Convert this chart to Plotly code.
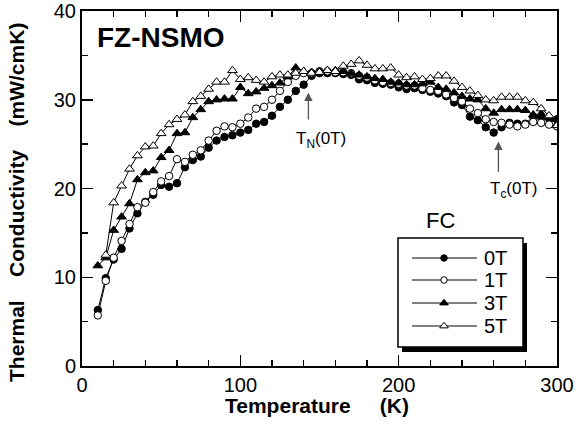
import plotly.graph_objects as go

# ---------------- data ----------------
temps = [10, 15, 20, 25, 30, 35, 40, 45, 50, 55, 60, 65, 70, 75, 80, 85, 90, 95, 100,
         105, 110, 115, 120, 125, 130, 135, 140, 145, 150, 155, 160, 165, 170, 175, 180,
         185, 190, 195, 200, 205, 210, 215, 220, 225, 230, 235, 240, 245, 250, 255, 260,
         265, 270, 275, 280, 285, 290, 295, 300]

k_0T = [6.3, 9.9, 12.0, 13.2, 15.5, 17.2, 18.5, 19.3, 20.4, 20.2, 20.6, 22.4, 23.2, 23.6,
        24.6, 25.4, 25.8, 26.0, 26.3, 26.6, 27.3, 27.5, 28.2, 29.2, 30.0, 31.0, 31.7, 32.7,
        33.0, 33.0, 33.0, 32.9, 32.8, 32.3, 32.2, 31.9, 31.8, 31.7, 31.4, 31.2, 31.3, 31.1,
        30.9, 30.7, 30.4, 29.7, 29.4, 28.1, 27.7, 26.9, 26.3, 26.9, 27.4, 27.3, 27.3, 28.1,
        28.0, 27.9, 27.8]

k_1T = [5.7, 9.6, 12.2, 14.1, 16.0, 17.9, 18.4, 19.6, 20.8, 21.4, 23.3, 23.0, 23.8, 24.3,
        25.4, 26.5, 27.0, 26.9, 27.3, 28.0, 29.0, 29.2, 30.0, 31.0, 32.0, 32.7, 33.0, 33.0,
        33.2, 33.2, 33.1, 33.1, 33.0, 32.7, 32.5, 32.2, 32.0, 31.9, 31.8, 31.6, 31.6, 31.3,
        31.1, 31.0, 30.6, 30.2, 29.8, 29.0, 28.5, 27.8, 27.5, 27.4, 27.2, 27.0, 27.2, 27.5,
        27.4, 27.2, 27.0]

k_3T = [11.3, 12.2, 15.3, 16.8, 18.3, 21.0, 21.8, 22.0, 23.5, 24.3, 26.2, 26.3, 28.0, 28.9,
        29.8, 30.0, 30.1, 30.1, 31.4, 30.7, 30.9, 31.3, 31.6, 31.9, 32.6, 33.6, 33.2, 33.1,
        33.2, 33.3, 33.3, 33.2, 33.0, 32.8, 32.6, 32.4, 32.3, 32.0, 31.9, 31.7, 31.7, 31.8,
        32.0, 31.4, 31.2, 30.8, 30.4, 30.1, 30.0, 29.0, 28.5, 28.9, 28.9, 28.9, 28.8, 28.3,
        28.4, 28.1, 27.8]

temps_5T = temps[1:]
k_5T = [12.5, 18.4, 20.3, 22.2, 23.7, 24.7, 24.8, 26.2, 27.2, 27.8, 28.3, 29.8, 30.4,
        31.2, 32.0, 32.0, 33.3, 32.3, 32.5, 32.2, 32.0, 32.6, 32.8, 32.8, 33.0, 33.2, 33.0,
        33.1, 33.3, 33.2, 33.8, 34.0, 34.4, 33.9, 33.5, 33.5, 33.6, 32.8, 32.5, 32.6, 32.3,
        32.4, 32.7, 32.7, 32.1, 31.4, 31.0, 30.5, 30.0, 29.9, 30.3, 30.3, 30.3, 29.9, 29.7,
        29.0, 28.2, 27.1]

series_names = ["0T", "1T", "3T", "5T"]
x_ticks = [0, 100, 200, 300]
y_ticks = [0, 10, 20, 30, 40]

FONT = "Liberation Sans, Arial, Helvetica, sans-serif"

# plot area in window pixels
L, R, T, B = 82, 557, 11, 366
W, H = 576, 430

fig = go.Figure()
styles = [
    dict(symbol="circle", color="black", size=7.5),
    dict(symbol="circle", color="white", size=7.5),
    dict(symbol="triangle-up", color="black", size=8.5),
    dict(symbol="triangle-up", color="white", size=8.5),
]
xs = [temps, temps, temps, temps_5T]
ys = [k_0T, k_1T, k_3T, k_5T]
for name, st, x, y in zip(series_names, styles, xs, ys):
    fig.add_trace(go.Scatter(
        x=x, y=y, name=name, mode="lines+markers", showlegend=False,
        line=dict(color="black", width=1),
        marker=dict(symbol=st["symbol"], color=st["color"], size=st["size"],
                    line=dict(color="black", width=1)),
    ))

# ---- hand-made legend on a pixel-scaled overlay axis ----
leg_box = (398, 238, 523, 347)
leg_rows = [258, 280, 303, 326]
line_x0, line_x1, mark_x, text_x = 412, 477, 444, 482
for name, st, yy in zip(series_names, styles, leg_rows):
    fig.add_trace(go.Scatter(
        x=[line_x0, line_x1], y=[yy, yy], xaxis="x2", yaxis="y2", mode="lines",
        line=dict(color="black", width=1), showlegend=False, hoverinfo="skip"))
    fig.add_trace(go.Scatter(
        x=[mark_x], y=[yy], xaxis="x2", yaxis="y2", mode="markers", showlegend=False,
        hoverinfo="skip",
        marker=dict(symbol=st["symbol"], color=st["color"], size=st["size"] - 1,
                    line=dict(color="black", width=1))))

axis_common = dict(
    showgrid=False, zeroline=False, showline=True, linecolor="black", linewidth=2,
    mirror="ticks", ticks="inside", ticklen=11, tickwidth=1.5, tickcolor="black",
    tickfont=dict(family=FONT, size=20, color="black"), automargin=False,
    ticklabeloverflow="allow",
)
fig.update_layout(
    xaxis=dict(range=[0, 300], tickvals=x_ticks,
               minor=dict(dtick=20, ticks="inside", ticklen=6, tickwidth=1.5, tickcolor="black"),
               **axis_common),
    yaxis=dict(range=[0, 40], tickvals=y_ticks,
               minor=dict(dtick=5, ticks="inside", ticklen=6, tickwidth=1.5, tickcolor="black"),
               **axis_common),
    xaxis2=dict(overlaying="x", range=[L, R], visible=False, automargin=False),
    yaxis2=dict(overlaying="y", range=[B, T], visible=False, automargin=False),
)

def px2paper_x(px):
    return (px - L) / (R - L)

def px2paper_y(py):
    return (B - py) / (B - T)

annotations = [
    dict(text="<b>FZ-NSMO</b>", x=px2paper_x(95), y=px2paper_y(37), xref="paper", yref="paper",
         xanchor="left", yanchor="middle", showarrow=False,
         font=dict(family=FONT, size=28, color="black")),
    dict(text="<b>Temperature\u00a0\u00a0\u00a0\u00a0\u00a0(K)</b>", x=px2paper_x(317), y=px2paper_y(405),
         xref="paper", yref="paper", xanchor="center", yanchor="middle", showarrow=False,
         font=dict(family=FONT, size=21, color="black")),
    dict(text="<b>Thermal\u00a0\u00a0\u00a0\u00a0Conductivity\u00a0\u00a0\u00a0\u00a0(mW/cmK)</b>",
         x=px2paper_x(17), y=px2paper_y(203), xref="paper", yref="paper",
         xanchor="center", yanchor="middle",
         textangle=-90, showarrow=False, font=dict(family=FONT, size=21, color="black")),
    dict(text="T<sub>N</sub>(0T)", x=px2paper_x(321), y=px2paper_y(140), xref="paper", yref="paper",
         xanchor="center", yanchor="middle", showarrow=False,
         font=dict(family=FONT, size=17, color="black")),
    dict(text="T<sub>c</sub>(0T)", x=px2paper_x(514), y=px2paper_y(190), xref="paper", yref="paper",
         xanchor="center", yanchor="middle", showarrow=False,
         font=dict(family=FONT, size=17, color="black")),
    dict(text="FC", x=px2paper_x(440), y=px2paper_y(220), xref="paper", yref="paper",
         xanchor="center", yanchor="middle", showarrow=False,
         font=dict(family=FONT, size=22, color="black")),
    # arrows
    dict(text="", x=143, y=30.8, ax=143, ay=27.6, xref="x", yref="y", axref="x", ayref="y",
         showarrow=True, arrowhead=2, arrowsize=1.3, arrowwidth=1.3, arrowcolor="#555"),
    dict(text="", x=263, y=25.3, ax=263, ay=21.7, xref="x", yref="y", axref="x", ayref="y",
         showarrow=True, arrowhead=2, arrowsize=1.3, arrowwidth=1.3, arrowcolor="#555"),
]
for name, yy in zip(series_names, leg_rows):
    annotations.append(dict(text=name, x=px2paper_x(text_x), y=px2paper_y(yy), xref="paper",
                            yref="paper", xanchor="left", yanchor="middle", showarrow=False,
                            font=dict(family=FONT, size=20, color="black")))

x0, y0, x1, y1 = leg_box
shapes = [
    dict(type="rect", xref="x2", yref="y2", x0=x0 + 4, x1=x1 + 4, y0=y0 + 5, y1=y1 + 5,
         fillcolor="black", line=dict(width=0), layer="below"),
    dict(type="rect", xref="x2", yref="y2", x0=x0, x1=x1, y0=y0, y1=y1,
         fillcolor="white", line=dict(color="black", width=1.5), layer="below"),
]

fig.update_layout(
    width=W, height=H,
    margin=dict(l=L, r=W - R, t=T, b=H - B, autoexpand=False),
    paper_bgcolor="white", plot_bgcolor="white",
    showlegend=False,
    annotations=annotations,
    shapes=shapes,
)

fig.write_html("out.html", config={"displayModeBar": False, "staticPlot": True},
               post_script="document.body.style.margin='0';document.body.style.overflow='hidden';")
